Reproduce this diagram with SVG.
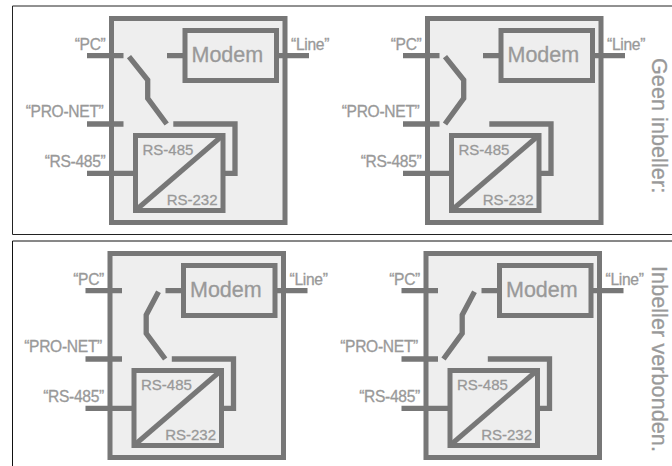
<svg xmlns="http://www.w3.org/2000/svg" width="672" height="466" viewBox="0 0 672 466">
<style>
text{font-family:"Liberation Sans",Arial,sans-serif;fill:#999;stroke:#999;stroke-width:.3px}
.lb{font-size:15.6px;letter-spacing:-.3px}
.lbe{text-anchor:end}
.md{font-size:21.5px}
.cv{font-size:15px}
.side{font-size:21.5px;letter-spacing:.1px}
.box{fill:#eee;stroke:#777;stroke-width:5}
.blk{fill:none;stroke:#777;stroke-width:5}
.cn{fill:none;stroke:#777;stroke-width:5.300}
</style>
<rect width="672" height="466" fill="#fff"/>
<path d="M673 6H12.500V234.500H673" fill="none" stroke="#222" stroke-width="1"/>
<path d="M673 241H12.500V467" fill="none" stroke="#111" stroke-width="1"/>
<g id="panel-1">
<g id="p1-switchbox"><rect class="box" x="111.500" y="18.500" width="173.500" height="204"/></g>
<g id="p1-connectors">
<path class="cn" d="M87 55.700H123.500M87 124H123.500M87 173.300H135M167 55.700H183M278 55.700H309"/>
<path class="cn" d="M129 56.700L147.700 80V98.300L166.700 124"/>
<path class="cn" d="M173.300 124H235V173.300H224"/>
</g>
<g id="p1-modem"><rect class="blk" x="185" y="30.500" width="91.500" height="50"/><text class="md" x="191.500" y="62">Modem</text></g>
<g id="p1-converter"><rect class="blk" x="135.500" y="135.500" width="87.500" height="75"/><path class="blk" d="M136 210L222 136"/><text class="cv" x="142.500" y="155">RS-485</text><text class="cv" x="166.700" y="205">RS-232</text></g>
<g id="p1-pc"><text class="lb lbe" x="105.500" y="50">“PC”</text></g>
<g id="p1-pronet"><text class="lb lbe" x="103.500" y="117">“PRO-NET”</text></g>
<g id="p1-rs485"><text class="lb lbe" x="105.500" y="166.500">“RS-485”</text></g>
<g id="p1-line"><text class="lb" x="291" y="49.500">“Line”</text></g>
</g>
<g id="panel-2" transform="translate(316 0)">
<g id="p2-switchbox"><rect class="box" x="111.500" y="18.500" width="173.500" height="204"/></g>
<g id="p2-connectors">
<path class="cn" d="M87 55.700H123.500M87 124H123.500M87 173.300H135M167 55.700H183M278 55.700H309"/>
<path class="cn" d="M129 56.700L147.700 80V98.300L129 124"/>
<path class="cn" d="M173.300 124H235V173.300H224"/>
</g>
<g id="p2-modem"><rect class="blk" x="185" y="30.500" width="91.500" height="50"/><text class="md" x="191.500" y="62">Modem</text></g>
<g id="p2-converter"><rect class="blk" x="135.500" y="135.500" width="87.500" height="75"/><path class="blk" d="M136 210L222 136"/><text class="cv" x="142.500" y="155">RS-485</text><text class="cv" x="166.700" y="205">RS-232</text></g>
<g id="p2-pc"><text class="lb lbe" x="105.500" y="50">“PC”</text></g>
<g id="p2-pronet"><text class="lb lbe" x="103.500" y="117">“PRO-NET”</text></g>
<g id="p2-rs485"><text class="lb lbe" x="105.500" y="166.500">“RS-485”</text></g>
<g id="p2-line"><text class="lb" x="291" y="49.500">“Line”</text></g>
</g>
<g id="panel-3" transform="translate(-1.500 235)">
<g id="p3-switchbox"><rect class="box" x="111.500" y="18.500" width="173.500" height="204"/></g>
<g id="p3-connectors">
<path class="cn" d="M87 55.700H123.500M87 124H123.500M87 173.300H135M167 55.700H183M278 55.700H309"/>
<path class="cn" d="M160 56.700L147.700 80V98.300L166.700 124"/>
<path class="cn" d="M173.300 124H235V173.300H224"/>
</g>
<g id="p3-modem"><rect class="blk" x="185" y="30.500" width="91.500" height="50"/><text class="md" x="191.500" y="62">Modem</text></g>
<g id="p3-converter"><rect class="blk" x="135.500" y="135.500" width="87.500" height="75"/><path class="blk" d="M136 210L222 136"/><text class="cv" x="142.500" y="155">RS-485</text><text class="cv" x="166.700" y="205">RS-232</text></g>
<g id="p3-pc"><text class="lb lbe" x="105.500" y="50">“PC”</text></g>
<g id="p3-pronet"><text class="lb lbe" x="103.500" y="117">“PRO-NET”</text></g>
<g id="p3-rs485"><text class="lb lbe" x="105.500" y="166.500">“RS-485”</text></g>
<g id="p3-line"><text class="lb" x="291" y="49.500">“Line”</text></g>
</g>
<g id="panel-4" transform="translate(314.500 235)">
<g id="p4-switchbox"><rect class="box" x="111.500" y="18.500" width="173.500" height="204"/></g>
<g id="p4-connectors">
<path class="cn" d="M87 55.700H123.500M87 124H123.500M87 173.300H135M167 55.700H183M278 55.700H309"/>
<path class="cn" d="M160 56.700L147.700 80V98.300L129 124"/>
<path class="cn" d="M173.300 124H235V173.300H224"/>
</g>
<g id="p4-modem"><rect class="blk" x="185" y="30.500" width="91.500" height="50"/><text class="md" x="191.500" y="62">Modem</text></g>
<g id="p4-converter"><rect class="blk" x="135.500" y="135.500" width="87.500" height="75"/><path class="blk" d="M136 210L222 136"/><text class="cv" x="142.500" y="155">RS-485</text><text class="cv" x="166.700" y="205">RS-232</text></g>
<g id="p4-pc"><text class="lb lbe" x="105.500" y="50">“PC”</text></g>
<g id="p4-pronet"><text class="lb lbe" x="103.500" y="117">“PRO-NET”</text></g>
<g id="p4-rs485"><text class="lb lbe" x="105.500" y="166.500">“RS-485”</text></g>
<g id="p4-line"><text class="lb" x="291" y="49.500">“Line”</text></g>
</g>
<text class="side" transform="translate(652.300 58) rotate(90)">Geen inbeller:</text>
<text class="side" transform="translate(652.300 266) rotate(90)">Inbeller verbonden.</text>
</svg>
